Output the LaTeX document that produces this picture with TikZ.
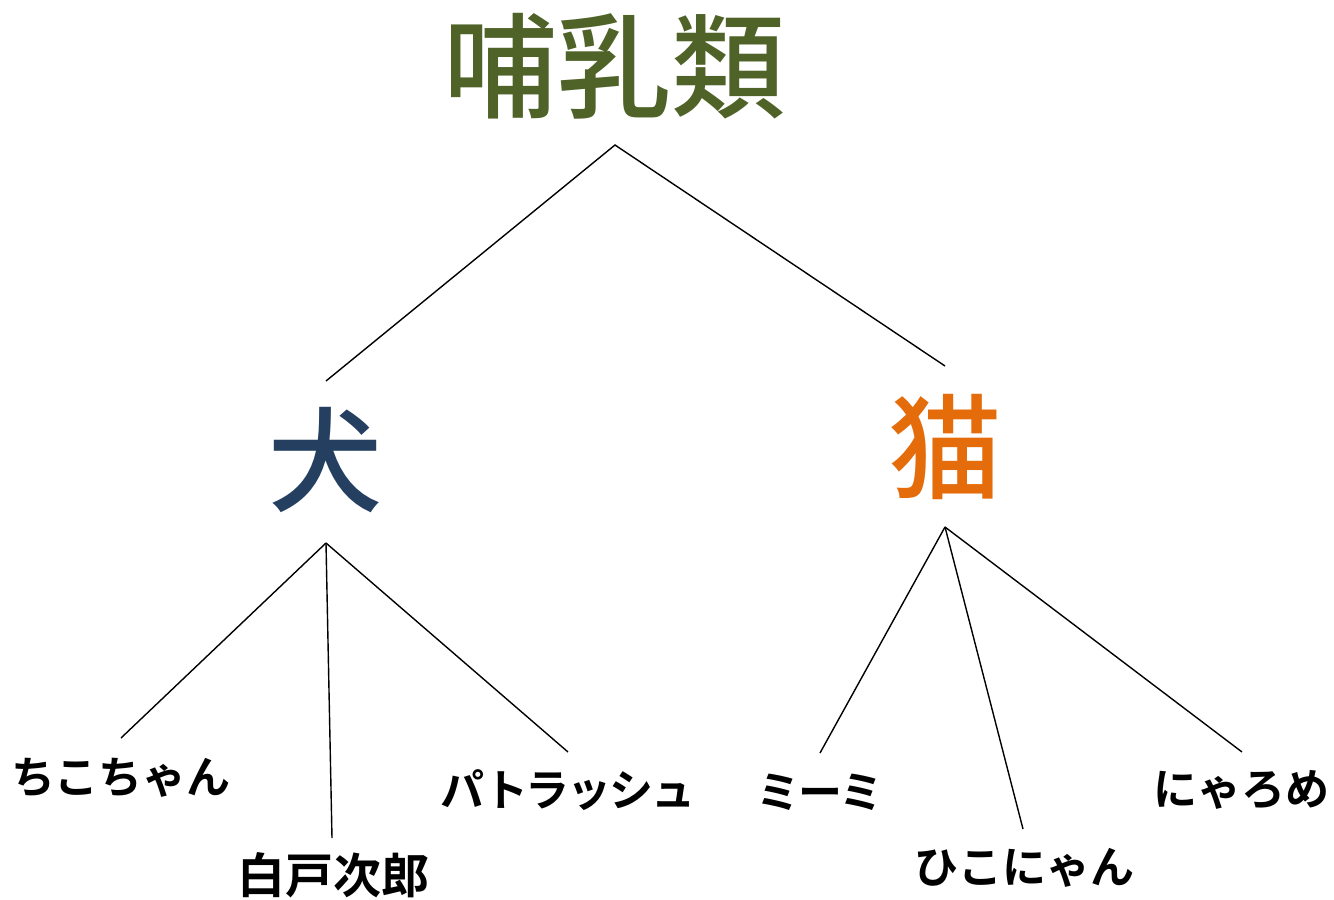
\documentclass[tikz,border=0pt]{standalone}
\usepackage{fontspec}
\setmainfont{Noto Sans CJK JP}[BoldFont={Noto Sans CJK JP Bold}]
\newfontfamily\cjkmed{Noto Sans CJK JP Medium}
\newfontfamily\cjkboldtight{Noto Sans CJK JP Bold}[LetterSpace=-5]
\definecolor{olivec}{HTML}{4F6228}
\definecolor{navyc}{HTML}{243F60}
\definecolor{orangec}{HTML}{E46C0A}
\begin{document}
\begin{tikzpicture}[x=1pt,y=-1pt,
  big/.style={inner sep=0pt,font=\cjkmed\fontsize{114}{114}\selectfont},
  mid/.style={inner sep=0pt,font=\cjkmed\fontsize{114}{114}\selectfont},
  leaf/.style={inner sep=0pt,font=\bfseries\fontsize{44}{44}\selectfont},
  tightleaf/.style={inner sep=0pt,font=\cjkboldtight\fontsize{44}{44}\selectfont},
  edge/.style={line width=1.4pt,black}]
\useasboundingbox (0,0) rectangle (1334,900);
\node[big,text=olivec] (root) at (614,66) {哺乳類};
\node[mid,text=navyc] (dog) at (325,460) {犬};
\node[mid,text=orangec] (cat) at (945,447) {猫};
\node[leaf] (l1) at (121,778) {ちこちゃん};
\node[leaf,font=\bfseries\fontsize{48}{48}\selectfont] (l2) at (333,875) {白戸次郎};
\node[tightleaf] (l3) at (568,790) {パトラッシュ};
\node[tightleaf] (l4) at (820,792) {ミーミ};
\node[leaf] (l5) at (1024,868) {ひこにゃん};
\node[leaf] (l6) at (1241,790) {にゃろめ};
\coordinate (rootB) at (615,145);
\coordinate (dogT) at (326,381);
\coordinate (catT) at (945,366);
\coordinate (dogB) at (326,543);
\coordinate (catB) at (945,527);
\coordinate (l1T) at (121,738);
\coordinate (l2T) at (332,838);
\coordinate (l3T) at (568,752);
\coordinate (l4T) at (820,753);
\coordinate (l5T) at (1023,829);
\coordinate (l6T) at (1242,752);
\draw[edge] (dogT) -- (rootB) -- (catT);
\draw[edge] (dogB) -- (l1T);
\draw[edge] (dogB) -- (l2T);
\draw[edge] (dogB) -- (l3T);
\draw[edge] (catB) -- (l4T);
\draw[edge] (catB) -- (l5T);
\draw[edge] (catB) -- (l6T);
\end{tikzpicture}
\end{document}
